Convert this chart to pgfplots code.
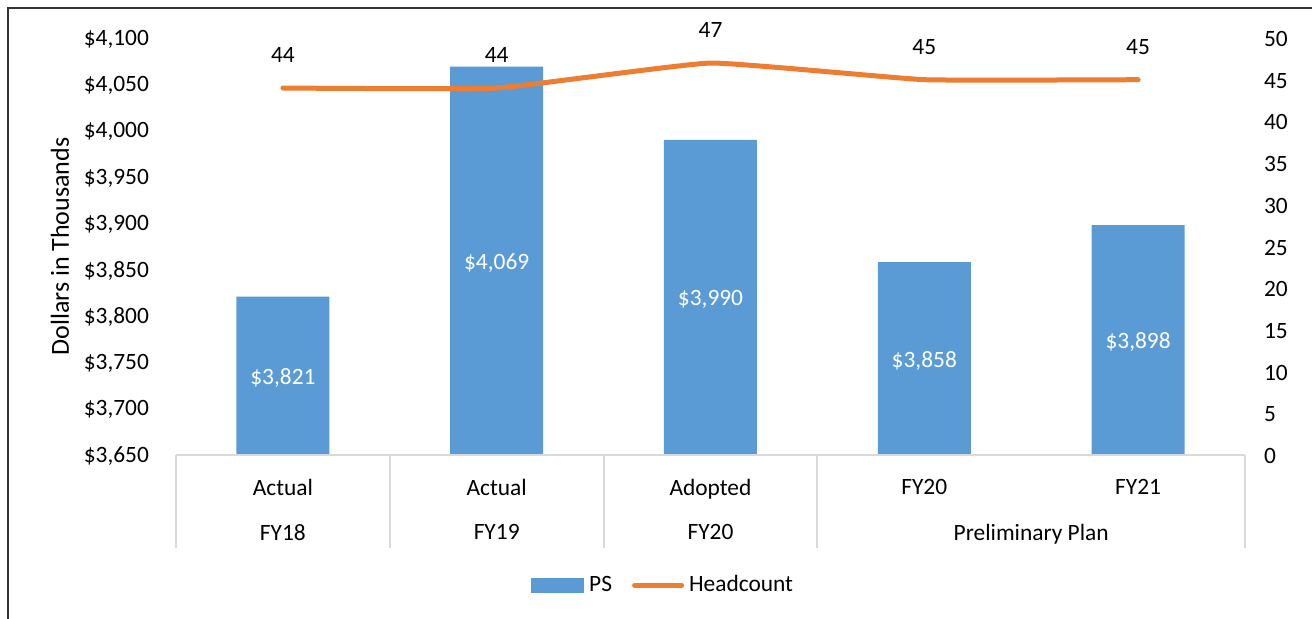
\documentclass[border=0pt]{standalone}
\usepackage{fontspec}
\setmainfont{Carlito}
\usepackage{pgfplots}
\pgfplotsset{compat=1.18}

\definecolor{psblue}{HTML}{5B9BD5}
\definecolor{hcorange}{HTML}{ED7D31}
\definecolor{gridgray}{HTML}{D9D9D9}

\begin{document}
% 1 px of the reference = 0.5 pt
\begin{tikzpicture}[font=\fontsize{11.7}{14}\selectfont]
\begin{axis}[
    name=main,
    scale only axis, clip=false,
    width=534.5pt, height=208.5pt,
    xmin=-0.5, xmax=4.5,
    ymin=3650, ymax=4100,
    ytick={3650,3700,...,4100},
    xtick={0,1,2,3,4},
    xticklabels={Actual,Actual,Adopted,FY20,FY21},
    extra x ticks={0,1,2,3.5},
    extra x tick labels={FY18,FY19,FY20,Preliminary Plan},
    extra x tick style={tick label style={yshift=-22.5pt}},
    xticklabel style={yshift=-8.5pt},
    major tick length=0pt,
    axis line style={draw=none},
    axis y line*=left,
    axis x line*=bottom,
    /pgf/number format/.cd, fixed, 1000 sep={,}, assume math mode=true,
    /pgfplots/.cd,
    yticklabel={\$\pgfmathprintnumber{\tick}},
    yticklabel style={xshift=-10pt, yshift=-0.5pt},
    ylabel={Dollars in Thousands},
    ylabel style={at={(axis description cs:-0.1085,0.5)}, anchor=center,
        font=\fontsize{13}{15}\selectfont},
    ybar, bar width=46.5pt,
    nodes near coords={\$\pgfmathprintnumber{\pgfplotspointmeta}},
    visualization depends on={y \as \rawy},
    every node near coord/.append style={anchor=center, text=white,
        yshift={-(\rawy-3650)*0.231667pt-1pt}},
]
\addplot[fill=psblue, draw=none] coordinates {
    (0,3821) (1,4069) (2,3990) (3,3858) (4,3898)
};
% category axis line and group separators
\draw[gridgray, line width=1pt] (rel axis cs:0,0) -- (rel axis cs:1,0);
\pgfplotsinvokeforeach{-0.5,0.5,1.5,2.5,4.5}{
    \draw[gridgray, line width=1pt] (axis cs:#1,3650) -- ([yshift=-46.5pt]axis cs:#1,3650);
}
\end{axis}

\begin{axis}[
    scale only axis,
    width=534.5pt, height=208.5pt,
    xmin=-0.5, xmax=4.5,
    ymin=0, ymax=50,
    ytick={0,5,...,50},
    axis y line*=right,
    axis x line=none,
    axis line style={draw=none},
    major tick length=0pt,
    yticklabel style={xshift=6pt, yshift=-0.5pt},
    /pgf/number format/assume math mode=true,
    nodes near coords,
    every node near coord/.append style={anchor=center, yshift=16.5pt, text=black},
    legend columns=2,
    legend style={at={(0.3265,-0.312)}, anchor=west, draw=none, fill=none,
        column sep=2pt, font=\fontsize{11.7}{14}\selectfont,
        nodes={inner xsep=0.5pt},
        /tikz/every even column/.append style={column sep=9.5pt}},
]
\addlegendimage{legend image code/.code={
    \fill[psblue] (0pt,-3.5pt) rectangle (26pt,3.5pt);}}
\addlegendentry{PS}
\addplot[hcorange, line width=2.5pt, line cap=round, smooth, tension=0.2,
    legend image code/.code={
    \draw[hcorange, line width=2.5pt, line cap=round] (1.25pt,0pt) -- (24.75pt,0pt);}]
    coordinates {(0,44) (1,44) (2,47) (3,45) (4,45)};
\addlegendentry{Headcount}
\end{axis}

% outer chart frame (left and top edges visible in the crop)
\draw[black!80, line width=0.6pt] (-84pt,-82pt) -- (-84pt,223.5pt) -- (568pt,223.5pt);
\pgfresetboundingbox
\path[use as bounding box] (-88pt,-82pt) rectangle (568pt,227.5pt);
\end{tikzpicture}
\end{document}
